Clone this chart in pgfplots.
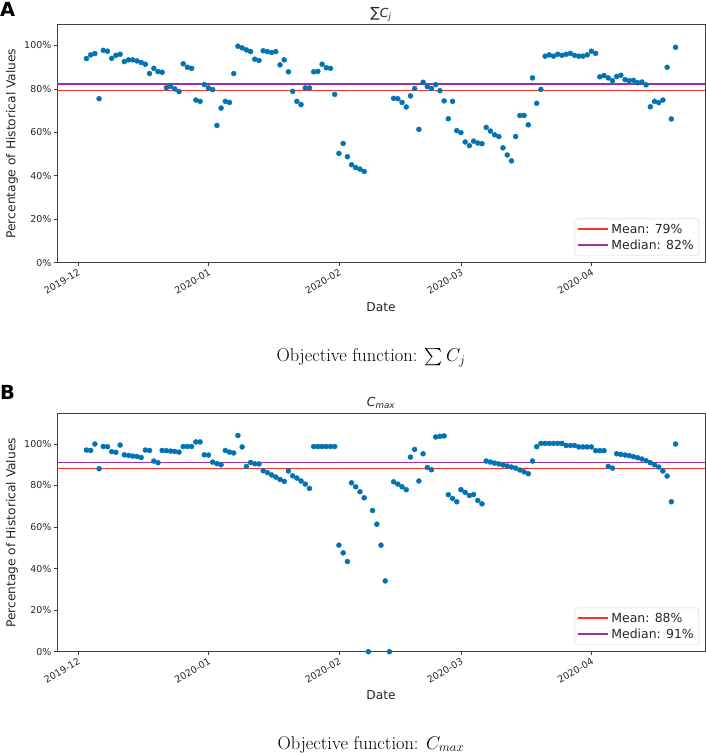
\documentclass[border=0pt]{standalone}
\usepackage{fix-cm}
\usepackage{amsmath}
\usepackage{fontspec}
\usepackage{pgfplots}
\pgfplotsset{compat=1.18}
\usepackage{pgfplotstable}
\newfontfamily\dv{DejaVu Sans}
\definecolor{dotblue}{RGB}{1,115,178}
\definecolor{meanred}{RGB}{245,50,35}
\definecolor{medpurple}{RGB}{160,50,160}
\definecolor{txt}{RGB}{38,38,38}

\pgfplotstableread{
day val
2 94.0
3 95.7
4 96.3
5 75.5
6 97.8
7 97.4
8 94.1
9 95.5
10 96.0
11 92.6
12 93.4
13 93.4
14 92.9
15 92.2
16 91.4
17 87.1
18 89.5
19 88.0
20 87.7
21 80.6
22 81.2
23 80.0
24 78.8
25 91.6
26 90.0
27 89.5
28 74.9
29 74.3
30 82.0
31 80.5
32 79.7
33 63.2
34 71.2
35 74.3
36 73.8
37 87.1
38 99.7
39 98.9
40 98.0
41 97.2
42 93.7
43 93.1
44 97.6
45 97.2
46 96.8
47 97.2
48 91.1
49 93.4
50 87.9
51 78.9
52 74.3
53 72.8
54 80.5
55 80.5
56 87.9
57 88.1
58 91.4
59 89.8
60 89.5
61 77.5
62 50.3
63 54.9
64 48.8
65 45.1
66 43.8
67 43.1
68 42.0
75 75.7
76 75.5
77 73.8
78 71.7
79 76.8
80 80.2
81 61.4
82 83.1
83 81.1
84 80.2
85 82.0
86 79.2
87 74.5
88 66.3
89 74.3
90 60.8
91 59.9
92 55.6
93 53.9
94 56.0
95 55.1
96 54.8
97 62.3
98 60.6
99 58.9
100 58.1
101 52.9
102 49.6
103 46.9
104 58.1
105 67.8
106 67.8
107 63.5
108 85.1
109 73.4
110 79.8
111 95.1
112 95.7
113 95.1
114 96.0
115 95.5
116 96.0
117 96.4
118 95.5
119 95.1
120 95.1
121 95.7
122 97.4
123 96.4
124 85.6
125 86.2
126 85.1
127 83.8
128 85.7
129 86.3
130 84.3
131 83.8
132 84.0
133 82.9
134 83.2
135 81.9
136 71.8
137 74.3
138 73.7
139 74.9
140 90.0
141 66.2
142 99.2
}\dataA

\pgfplotstableread{
day val
2 97.1
3 96.9
4 100.0
5 88.1
6 98.8
7 98.7
8 96.3
9 96.0
10 99.5
11 94.8
12 94.5
13 94.2
14 94.0
15 93.5
16 97.1
17 96.9
18 91.8
19 91.0
20 96.9
21 96.8
22 96.6
23 96.4
24 96.1
25 98.8
26 98.8
27 98.8
28 101.0
29 101.0
30 94.8
31 94.7
32 91.3
33 90.5
34 90.0
35 96.9
36 96.1
37 95.7
38 104.1
39 98.6
40 89.2
41 91.1
42 90.5
43 90.4
44 87.1
45 86.2
46 85.1
47 84.1
48 82.9
49 82.0
50 87.0
51 84.7
52 83.6
53 82.2
54 80.7
55 78.6
56 98.8
57 98.8
58 98.8
59 98.8
60 98.8
61 98.8
62 51.3
63 47.6
64 43.4
65 81.3
66 79.4
67 77.0
68 74.1
69 0
70 68.0
71 61.4
72 51.3
73 34.1
74 0
75 81.8
76 80.7
77 79.4
78 78.0
79 93.7
80 97.4
81 82.2
82 95.3
83 88.7
84 87.6
85 103.4
86 103.7
87 103.9
88 75.6
89 73.8
90 72.2
91 78.0
92 76.7
93 75.2
94 75.7
95 72.8
96 71.2
97 91.8
98 91.3
99 90.8
100 90.4
101 89.9
102 89.4
103 88.9
104 88.4
105 87.5
106 86.6
107 85.7
108 91.8
109 98.7
110 100.3
111 100.3
112 100.3
113 100.3
114 100.3
115 100.3
116 99.3
117 99.3
118 99.3
119 98.6
120 98.6
121 98.6
122 98.6
123 96.8
124 96.8
125 96.8
126 89.2
127 88.4
128 95.3
129 95.0
130 94.7
131 94.4
132 93.9
133 93.4
134 92.8
135 92.0
136 91.0
137 90.0
138 88.9
139 87.0
140 84.6
141 72.2
142 100.0
}\dataB

\pgfplotsset{
  myaxis/.style={
    scale only axis, width=648bp, height=238bp,
    xmin=-5, xmax=149, ymin=0,
    xtick={0,31,62,91,122},
    xticklabels={2019-12,2020-01,2020-02,2020-03,2020-04},
    ytick={0,20,40,60,80,100},
    yticklabels={0\%,20\%,40\%,60\%,80\%,100\%},
    tick align=outside, tick pos=left,
    major tick length=3.5bp,
    every tick/.style={black!75, line width=0.8bp},
    axis line style={black!75, line width=0.8bp},
    ticklabel style={font=\dv\fontsize{9.5}{11}\selectfont, text=txt},
    xticklabel style={rotate=30, anchor=north east, inner sep=1.5bp},
    yticklabel style={inner sep=2bp},
    legend style={at={(1,0)}, anchor=south east, xshift=-6bp, yshift=7bp,
      draw=black!18, fill=white, rounded corners=2.5bp,
      font=\dv\fontsize{12.5}{14}\selectfont, text=txt,
      inner xsep=2.5bp, inner ysep=2.5bp, row sep=0bp,
      nodes={inner sep=2.5bp}},
    legend cell align=left,
    legend image code/.code={\path (0bp,0bp) -- (30bp,0bp);\draw[#1] (0bp,0bp) -- (25bp,0bp);},
  }
}

\begin{document}
\begin{tikzpicture}
\useasboundingbox (0,0) rectangle (706bp,753bp);

% ---------- Panel A ----------
\begin{axis}[myaxis, at={(57bp,490.3bp)}, anchor=south west, ymax=109.6]
\addplot [only marks, mark=*, mark size=2.5bp, color=dotblue, forget plot] table[x=day,y=val] {\dataA};
\addplot [meanred, line width=1.5bp] coordinates {(-5,79.2) (149,79.2)};
\addlegendentry{Mean: 79\%}
\addplot [medpurple, line width=1.5bp] coordinates {(-5,82.3) (149,82.3)};
\addlegendentry{Median: 82\%}
\end{axis}

% ---------- Panel B ----------
\begin{axis}[myaxis, at={(57bp,101.3bp)}, anchor=south west, ymax=114.6]
\addplot [only marks, mark=*, mark size=2.5bp, color=dotblue, forget plot] table[x=day,y=val] {\dataB};
\addplot [meanred, line width=1.5bp] coordinates {(-5,88.1) (149,88.1)};
\addlegendentry{Mean: 88\%}
\addplot [medpurple, line width=1.5bp] coordinates {(-5,91.1) (149,91.1)};
\addlegendentry{Median: 91\%}
\end{axis}

% panel letters
\node[anchor=base west, inner sep=0pt, font=\dv\bfseries\fontsize{19.5}{22}\selectfont] at (0bp,736.5bp) {A};
\node[anchor=base west, inner sep=0pt, font=\dv\bfseries\fontsize{19.5}{22}\selectfont] at (0bp,353bp) {B};

% titles
\node[anchor=base, inner sep=0pt, text=txt, font=\dv\fontsize{12.5}{14}\selectfont] at (381bp,735.5bp) {{\fontsize{14}{14}\selectfont ∑}{\itshape C}\textsubscript{\itshape j}};
\node[anchor=base, inner sep=0pt, text=txt, font=\dv\fontsize{12.5}{14}\selectfont] at (381bp,346bp) {{\itshape C}\textsubscript{\itshape max}};

% axis labels
\node[rotate=90, inner sep=0pt, text=txt, font=\dv\fontsize{12.3}{14}\selectfont] at (12bp,609.4bp) {Percentage of Historical Values};
\node[rotate=90, inner sep=0pt, text=txt, font=\dv\fontsize{12.3}{14}\selectfont] at (12bp,220.1bp) {Percentage of Historical Values};
\node[inner sep=0pt, text=txt, font=\dv\fontsize{12.3}{14}\selectfont] at (381bp,446.3bp) {Date};
\node[inner sep=0pt, text=txt, font=\dv\fontsize{12.3}{14}\selectfont] at (381bp,58bp) {Date};

% captions
\node[anchor=base, inner sep=0pt, font=\fontsize{18.5}{22}\selectfont] at (371bp,391.3bp) {Objective function: $\sum C_j$};
\node[anchor=base, inner sep=0pt, font=\fontsize{18.5}{22}\selectfont] at (371bp,4bp) {Objective function: $C_{max}$};
\end{tikzpicture}
\end{document}
